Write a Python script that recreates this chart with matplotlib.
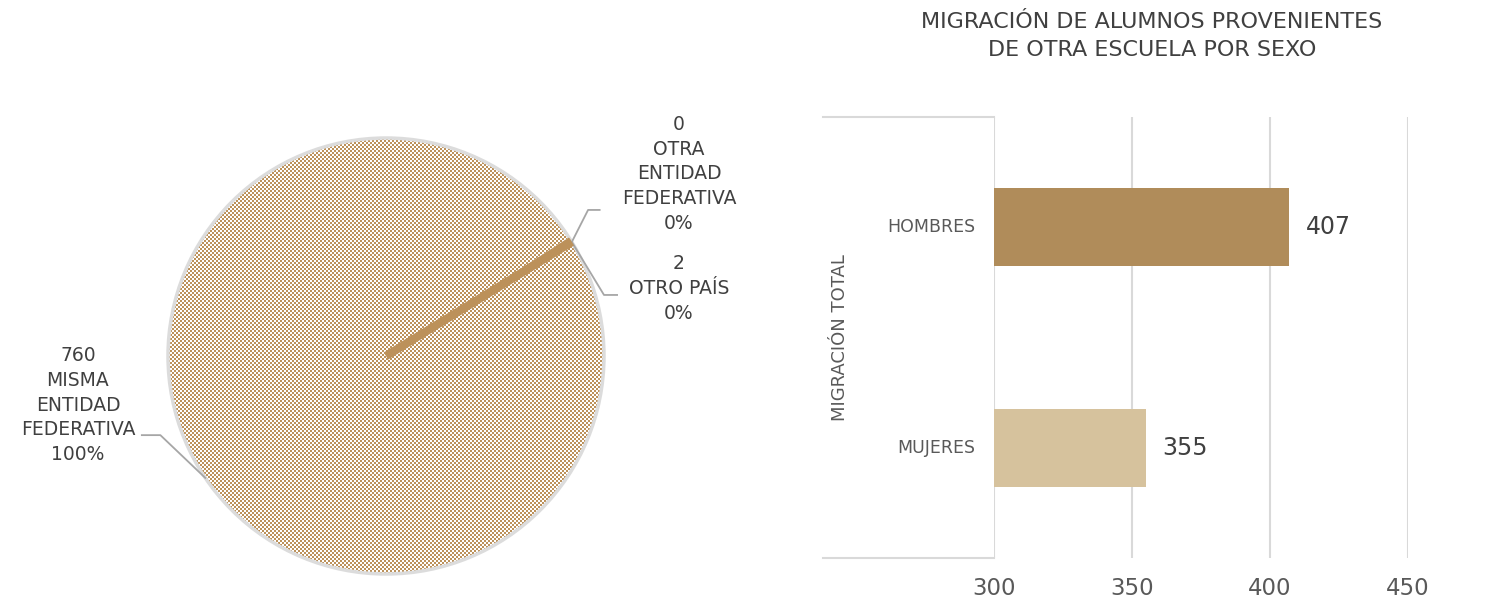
import numpy as np
import matplotlib
matplotlib.use('Agg')
from matplotlib import pyplot as plt

plt.rcParams['font.family'] = ['DejaVu Sans']

# pie data
pie_labels = ['MISMA\nENTIDAD\nFEDERATIVA', 'OTRA\nENTIDAD\nFEDERATIVA', 'OTRO PAÍS']
pie_values = [760, 0, 2]
pie_pcts = ['100%', '0%', '0%']

# bar data
bar_cats = ['HOMBRES', 'MUJERES']
bar_values = [407, 355]
bar_colors = ['#B08C5A', '#D6C29D']
x_ticks = [300, 350, 400, 450]

title = 'MIGRACIÓN DE ALUMNOS PROVENIENTES\nDE OTRA ESCUELA POR SEXO'
axis_title = 'MIGRACIÓN TOTAL'

W, H = 1498, 599
fig = plt.figure(figsize=(W / 100, H / 100), dpi=100)

brown = '#BC915A'
txt = '#404040'
lead = '#A6A6A6'

# ---- pie ----
cx, cy, r = 386, 356, 218
pax = fig.add_axes([(cx - r) / W, (H - cy - r) / H, 2 * r / W, 2 * r / H])
pax.set_zorder(2)
wedges, _ = pax.pie(pie_values, startangle=32, counterclock=False, radius=1,
                    colors=['none', brown, brown],
                    wedgeprops=dict(edgecolor='none', linewidth=0))
pax.set_xlim(-1, 1)
pax.set_ylim(-1, 1)
pax.set_aspect('equal')
pax.axis('off')

# checkered fill of the big slice, 2px cells aligned to the pixel grid
n = 2 * r
ii, jj = np.indices((n, n))
checker = np.zeros((n, n, 4))
checker[..., :3] = matplotlib.colors.to_rgb(brown)
checker[..., 3] = ((ii // 2 + jj // 2) % 2).astype(float)
im = fig.figimage(checker, xo=cx - r, yo=H - cy - r, zorder=1)
im.set_clip_path(wedges[0])

# soft gray outline
circ = plt.Circle((0, 0), 1.0, fill=False, edgecolor='#DCDCDC', linewidth=2.5,
                  zorder=0.4, clip_on=False)
pax.add_patch(circ)

# the tiny slice is thinner than a pixel, draw it as a line
ang = np.deg2rad(32 - 0.47)
pax.plot([0, np.cos(ang)], [0, np.sin(ang)], color=brown, linewidth=6,
         solid_capstyle='butt', zorder=3)

fs = 13.5
ls = 1.38
# label: misma entidad
edge = np.deg2rad(214)
ex, ey = np.cos(edge), np.sin(edge)
pax.plot([ex, -1.035, -1.12], [ey, -0.363, -0.363], color=lead, lw=1.3,
         clip_on=False)
pax.text(-1.413, -0.225, '{}\n{}\n{}'.format(pie_values[0], pie_labels[0], pie_pcts[0]),
         ha='center', va='center', fontsize=fs, color=txt, linespacing=ls)

# label: otra entidad
px, py = np.cos(ang), np.sin(ang)
pax.plot([px, 0.927, 0.98], [py, 0.67, 0.67], color=lead, lw=1.3, clip_on=False)
pax.text(1.344, 0.835, '{}\n{}\n{}'.format(pie_values[1], pie_labels[1], pie_pcts[1]),
         ha='center', va='center', fontsize=fs, color=txt, linespacing=ls)

# label: otro pais
pax.plot([px, 1.0, 1.06], [py, 0.28, 0.28], color=lead, lw=1.3, clip_on=False)
pax.text(1.344, 0.31, '{}\n{}\n{}'.format(pie_values[2], pie_labels[2], pie_pcts[2]),
         ha='center', va='center', fontsize=fs, color=txt, linespacing=ls)

# ---- bars ----
x0, x1, y0, y1 = 994, 1408, 117, 558
bax = fig.add_axes([x0 / W, (H - y1) / H, (x1 - x0) / W, (y1 - y0) / H])
ypos = np.arange(len(bar_cats))
bax.barh(ypos, bar_values, height=0.355, color=bar_colors, zorder=3)
bax.set_xlim(300, 450)
bax.set_ylim(len(bar_cats) - 0.5, -0.5)
for s in bax.spines.values():
    s.set_visible(False)
bax.set_xticks(x_ticks)
bax.set_xticklabels([str(t) for t in x_ticks], fontsize=16.5, color='#595959')
bax.tick_params(axis='x', length=0, pad=14)
bax.set_yticks([])
for t in x_ticks:
    bax.axvline(t, color='#D9D9D9', lw=1.5, zorder=1)

for y, v in zip(ypos, bar_values):
    bax.text(v + 6, y, str(v), va='center', ha='left', fontsize=17, color='#404040')
for y, c in zip(ypos, bar_cats):
    bax.text(-0.045, y, c, transform=bax.get_yaxis_transform(), ha='right',
             va='center', fontsize=12.5, color='#595959')

# left bracket of the category axis
bfrac = (823 - x0) / (x1 - x0)
for yy in (0, 1):
    bax.plot([bfrac, 0], [yy, yy], transform=bax.transAxes, color='#D9D9D9',
             lw=1.5, clip_on=False)
bax.text((840 - x0) / (x1 - x0), 0.5, axis_title, transform=bax.transAxes,
         rotation=90, ha='center', va='center', fontsize=13, color='#595959')

fig.text(1152 / W, 1 - 36 / H, title, ha='center', va='center', fontsize=16,
         color='#404040', linespacing=1.45)

fig.savefig('out.png', dpi=100)
